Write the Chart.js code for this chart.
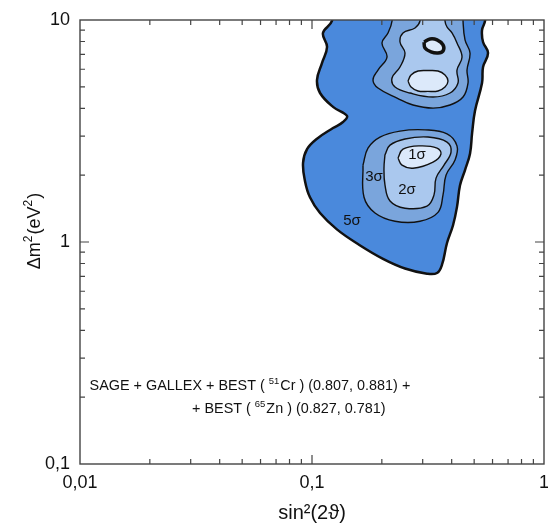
<!DOCTYPE html>
<html>
<head>
<meta charset="utf-8">
<script src="https://cdn.jsdelivr.net/npm/chart.js@4.4.1/dist/chart.umd.min.js"></script>
<style>
  html, body { margin: 0; padding: 0; background: #ffffff; }
  #wrap { width: 548px; height: 525px; }
</style>
</head>
<body>
<div id="wrap"><canvas id="c" width="548" height="525"></canvas></div>
<script>
// Axis ticks (log scales)
const xMajorTicks = [0.01, 0.1, 1];
const xTickLabels = ['0,01', '0,1', '1'];
const yMajorTicks = [0.1, 1, 10];
const yTickLabels = ['0,1', '1', '10'];
const xMinorTicks = [0.02, 0.03, 0.04, 0.05, 0.06, 0.07, 0.08, 0.09, 0.2, 0.3, 0.4, 0.5, 0.6, 0.7, 0.8, 0.9];
const yMinorTicks = [0.2, 0.3, 0.4, 0.5, 0.6, 0.7, 0.8, 0.9, 2, 3, 4, 5, 6, 7, 8, 9];

// Allowed-region contours: [sin^2(2theta), dm^2 (eV^2)]
const contour5sigma = [
  [0.1219, 12], [0.1219, 9.90], [0.1115, 8.74], [0.1161, 7.56], [0.1104, 6.40], [0.1051, 5.37],
  [0.1083, 4.69], [0.1232, 4.06], [0.1415, 3.70], [0.1360, 3.47], [0.1232, 3.26], [0.1051, 2.92],
  [0.0952, 2.62], [0.0915, 2.27], [0.0933, 1.88], [0.0980, 1.59], [0.1083, 1.35], [0.1280, 1.14],
  [0.1600, 0.970], [0.2023, 0.840], [0.2517, 0.760], [0.3131, 0.720], [0.3459, 0.725], [0.3634, 0.790],
  [0.3819, 0.990], [0.4054, 1.19], [0.4217, 1.44], [0.4345, 1.80], [0.4566, 2.11], [0.4798, 2.50],
  [0.4900, 3.10], [0.5042, 3.90], [0.5406, 5.20], [0.5461, 6.14], [0.5738, 7.10], [0.5461, 7.96],
  [0.5406, 9.01], [0.5569, 9.90], [0.5569, 12], [0.1219, 12]
];
const contour3sigmaUpper = [
  [0.2213, 12], [0.2213, 9.90], [0.2126, 8.74], [0.2003, 7.88], [0.2105, 6.81], [0.1925, 5.95],
  [0.1832, 5.37], [0.1925, 4.94], [0.2326, 4.45], [0.2725, 4.14], [0.3324, 4.01], [0.3935, 4.14],
  [0.4477, 4.50], [0.4704, 5.20], [0.4658, 5.95], [0.4798, 7.10], [0.4566, 8.13], [0.4477, 9.90],
  [0.4477, 12], [0.2213, 12]
];
const contour2sigmaUpper = [
  [0.2921, 12], [0.2921, 9.90], [0.2780, 9.20], [0.2467, 8.74], [0.2395, 7.96], [0.2517, 7.10],
  [0.2395, 6.14], [0.2213, 5.48], [0.2280, 4.99], [0.2645, 4.69], [0.3324, 4.50], [0.3935, 4.69],
  [0.4259, 5.20], [0.4217, 5.95], [0.4433, 6.81], [0.4217, 7.88], [0.4013, 8.74], [0.3819, 9.30],
  [0.3744, 9.90], [0.3744, 12], [0.2921, 12]
];
const contour1sigmaUpper = [
  [0.2593, 5.31], [0.2672, 5.65], [0.2864, 5.89], [0.3162, 5.92], [0.3492, 5.89], [0.3744, 5.65],
  [0.3857, 5.31], [0.3744, 4.99], [0.3492, 4.79], [0.3162, 4.77], [0.2864, 4.79], [0.2672, 4.99],
  [0.2593, 5.31]
];
const bestFitRing = [
  [0.3040, 7.96], [0.3226, 8.21], [0.3459, 8.13], [0.3671, 7.72], [0.3671, 7.25], [0.3492, 7.10],
  [0.3258, 7.18], [0.3069, 7.48], [0.3040, 7.96]
];
const contour3sigmaLower = [
  [0.1659, 2.22], [0.1743, 2.65], [0.1964, 2.97], [0.2395, 3.16], [0.3069, 3.20], [0.3819, 3.07],
  [0.4217, 2.71], [0.4135, 2.34], [0.3781, 2.00], [0.3671, 1.63], [0.3492, 1.36], [0.2921, 1.24],
  [0.2280, 1.24], [0.1869, 1.35], [0.1676, 1.59], [0.1659, 2.22]
];
const contour2sigmaLower = [
  [0.2063, 2.47], [0.2169, 2.73], [0.2517, 2.91], [0.3162, 2.97], [0.3819, 2.82], [0.3974, 2.54],
  [0.3707, 2.22], [0.3425, 1.94], [0.3357, 1.63], [0.3131, 1.45], [0.2517, 1.42], [0.2169, 1.53],
  [0.2063, 1.81], [0.2043, 2.15], [0.2063, 2.47]
];
const contour1sigmaLower = [
  [0.2348, 2.39], [0.2467, 2.62], [0.2921, 2.71], [0.3459, 2.65], [0.3597, 2.49], [0.3324, 2.29],
  [0.2725, 2.15], [0.2443, 2.22], [0.2348, 2.39]
];

// Region labels, axis title and the fit description
const sigmaLabels = ['1σ', '2σ', '3σ', '5σ'];
const yTitleParts = ['Δm', '2', '(eV', '2', ')'];
const fitLine1 = ['SAGE + GALLEX + BEST ( ', '51', 'Cr ) (0.807, 0.881) +'];
const fitLine2 = ['+ BEST ( ', '65', 'Zn ) (0.827, 0.781)'];

const FONT = "'Liberation Sans', Arial, sans-serif";
const C5 = '#4a89dc', C3 = '#7aa5dc', C2 = '#aac8ee', C1 = '#dce9fa';

function toXY(arr) { return arr.map(p => ({ x: p[0], y: p[1] })); }

function region(data, fillColor, width, order) {
  return {
    data: toXY(data),
    showLine: true,
    fill: 'shape',
    backgroundColor: fillColor,
    borderColor: '#111111',
    borderWidth: width,
    pointRadius: 0,
    pointHoverRadius: 0,
    tension: 0.4,
    order: order
  };
}

const labelPlacement = {
  '1σ': [0.2836, 2.47], '2σ': [0.2567, 1.71], '3σ': [0.1850, 1.96], '5σ': [0.1488, 1.24]
};

// draws text pieces in sequence; odd-indexed pieces are superscripts
function drawRich(ctx, parts, x, y, size, supSize, rise, supIndex) {
  ctx.textAlign = 'left';
  ctx.textBaseline = 'middle';
  parts.forEach((s, i) => {
    const sup = supIndex(i);
    ctx.font = (sup ? supSize : size) + 'px ' + FONT;
    ctx.fillText(s, x, sup ? y - rise : y);
    x += ctx.measureText(s).width + (sup ? 1 : 0);
  });
}

function richWidth(ctx, parts, size, supSize, supIndex) {
  let w = 0;
  parts.forEach((s, i) => {
    const sup = supIndex(i);
    ctx.font = (sup ? supSize : size) + 'px ' + FONT;
    w += ctx.measureText(s).width + (sup ? 1 : 0);
  });
  return w;
}

const decorations = {
  id: 'decorations',
  afterDatasetsDraw(chart) {
    const ctx = chart.ctx, xs = chart.scales.x, ys = chart.scales.y;
    ctx.save();
    ctx.fillStyle = '#111';
    ctx.font = '15px ' + FONT;
    ctx.textAlign = 'center';
    ctx.textBaseline = 'middle';
    sigmaLabels.forEach(t => {
      const p = labelPlacement[t];
      ctx.fillText(t, xs.getPixelForValue(p[0]), ys.getPixelForValue(p[1]));
    });
    const isSup1 = i => i === 1;
    drawRich(ctx, fitLine1, xs.getPixelForValue(0.0110), ys.getPixelForValue(0.2246), 14.4, 9.5, 5, isSup1);
    drawRich(ctx, fitLine2, xs.getPixelForValue(0.0304), ys.getPixelForValue(0.1769), 14.4, 9.5, 5, isSup1);
    ctx.restore();
  },
  afterDraw(chart) {
    const ctx = chart.ctx, a = chart.chartArea, xs = chart.scales.x, ys = chart.scales.y;
    ctx.save();
    // rotated y-axis title
    ctx.fillStyle = '#111';
    const isSupT = i => i === 1 || i === 3;
    const tw = richWidth(ctx, yTitleParts, 18, 12, isSupT);
    ctx.translate(35, 231);
    ctx.rotate(-Math.PI / 2);
    drawRich(ctx, yTitleParts, -tw / 2, 0, 18, 12, 6, isSupT);
    ctx.setTransform(1, 0, 0, 1, 0, 0);
    // frame and inward ticks
    ctx.strokeStyle = '#444';
    ctx.lineWidth = 1.4;
    ctx.strokeRect(a.left, a.top, a.right - a.left, a.bottom - a.top);
    ctx.lineWidth = 1.2;
    ctx.beginPath();
    const xt = (v, len) => {
      const px = xs.getPixelForValue(v);
      ctx.moveTo(px, a.bottom); ctx.lineTo(px, a.bottom - len);
      ctx.moveTo(px, a.top); ctx.lineTo(px, a.top + len);
    };
    const yt = (v, len) => {
      const py = ys.getPixelForValue(v);
      ctx.moveTo(a.left, py); ctx.lineTo(a.left + len, py);
      ctx.moveTo(a.right, py); ctx.lineTo(a.right - len, py);
    };
    xMinorTicks.forEach(v => xt(v, 5));
    yMinorTicks.forEach(v => yt(v, 5));
    xMajorTicks.slice(1, -1).forEach(v => xt(v, 9));
    yMajorTicks.slice(1, -1).forEach(v => yt(v, 9));
    ctx.stroke();
    ctx.restore();
  }
};

new Chart(document.getElementById('c'), {
  type: 'scatter',
  data: {
    datasets: [
      region(contour5sigma, C5, 2.5, 9),
      region(contour3sigmaUpper, C3, 1.4, 8),
      region(contour2sigmaUpper, C2, 1.4, 7),
      region(contour1sigmaUpper, C1, 1.4, 6),
      region(bestFitRing, C1, 3.5, 5),
      region(contour3sigmaLower, C3, 1.4, 4),
      region(contour2sigmaLower, C2, 1.4, 3),
      region(contour1sigmaLower, C1, 1.4, 2)
    ]
  },
  options: {
    responsive: false,
    animation: false,
    events: [],
    layout: { padding: { left: 0, right: 4, top: 20, bottom: 0 } },
    plugins: { legend: { display: false }, tooltip: { enabled: false } },
    scales: {
      x: {
        type: 'logarithmic',
        min: 0.01, max: 1,
        grid: { display: false, drawTicks: false },
        border: { display: false },
        afterBuildTicks: s => { s.ticks = xMajorTicks.map(v => ({ value: v })); },
        afterFit: s => { s.height = 61; s.paddingLeft = 0; s.paddingRight = 0; },
        ticks: {
          autoSkip: false, maxRotation: 0, padding: 8, color: '#111',
          font: { family: FONT, size: 18 },
          callback: v => xTickLabels[xMajorTicks.indexOf(v)]
        },
        title: {
          display: true, text: 'sin²(2ϑ)', color: '#111',
          font: { family: FONT, size: 20 }, padding: { top: 0, bottom: 0 }
        }
      },
      y: {
        type: 'logarithmic',
        min: 0.1, max: 10,
        grid: { display: false, drawTicks: false },
        border: { display: false },
        afterBuildTicks: s => { s.ticks = yMajorTicks.map(v => ({ value: v })); },
        afterFit: s => { s.width = 80; s.paddingTop = 0; s.paddingBottom = 0; },
        ticks: {
          autoSkip: false, padding: 10, color: '#111',
          font: { family: FONT, size: 18 },
          callback: v => yTickLabels[yMajorTicks.indexOf(v)]
        }
      }
    }
  },
  plugins: [decorations]
});
</script>
</body>
</html>
